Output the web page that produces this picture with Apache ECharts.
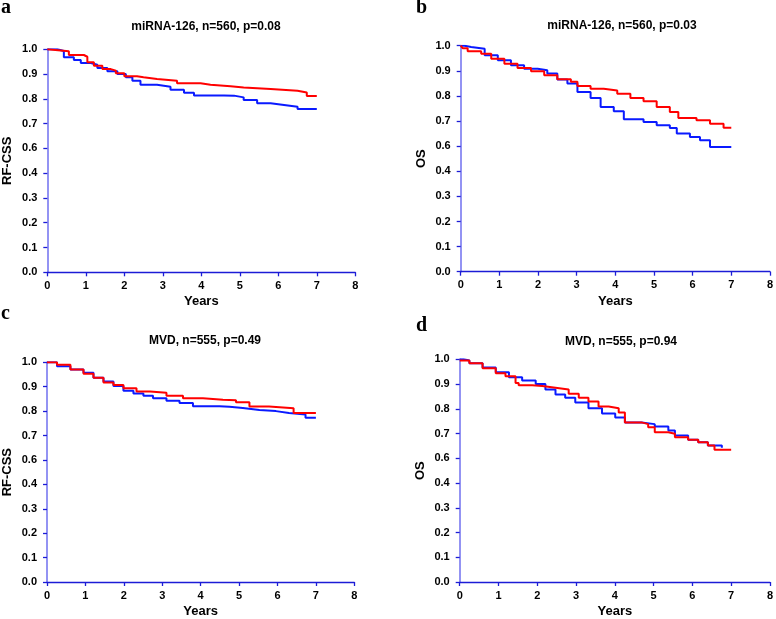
<!DOCTYPE html>
<html>
<head>
<meta charset="utf-8">
<script src="https://cdn.jsdelivr.net/npm/echarts@6/dist/echarts.min.js"></script>
<style>
html,body{margin:0;padding:0;background:#fff;}
#chart{width:776px;height:619px;}
</style>
</head>
<body>
<div id="chart"></div>
<script>
// ---- Data ----
const xTicks = [0, 1, 2, 3, 4, 5, 6, 7, 8];
// y tick labels as printed on the original figure (0.5 is missing there)
const yTickLabels = ["0.0", "0.1", "0.2", "0.3", "0.4", "0.6", "0.7", "0.8", "0.9", "1.0"];

const panelTitles = ["miRNA-126, n=560, p=0.08", "miRNA-126, n=560, p=0.03", "MVD, n=555, p=0.49", "MVD, n=555, p=0.94"];
const panelLetters = ["a", "b", "c", "d"];
const yNames = ["RF-CSS", "OS", "RF-CSS", "OS"];
const xName = "Years";

// Panel a (RF-CSS, miRNA-126)
const aRedT  = [0, 0.05, 0.56, 0.95, 1.04, 1.21, 1.43, 1.65, 1.78, 2.0, 2.33, 2.5, 2.85, 3.37, 3.98, 4.24, 4.76, 5.1, 5.8, 6.5, 6.74, 7.0];
const aRedS  = [1.0, 0.992, 0.977, 0.97, 0.948, 0.934, 0.92, 0.914, 0.903, 0.891, 0.887, 0.88, 0.873, 0.863, 0.857, 0.851, 0.846, 0.84, 0.833, 0.826, 0.812, 0.812];
const aBlueT = [0, 0.26, 0.43, 0.69, 0.87, 1.13, 1.3, 1.56, 1.82, 2.04, 2.21, 2.42, 2.85, 3.2, 3.55, 3.81, 4.59, 4.85, 5.1, 5.45, 5.8, 6.15, 6.5, 7.0];
const aBlueS = [1.0, 0.993, 0.968, 0.957, 0.945, 0.938, 0.925, 0.911, 0.9, 0.887, 0.873, 0.857, 0.849, 0.837, 0.825, 0.814, 0.813, 0.806, 0.795, 0.782, 0.775, 0.768, 0.759, 0.759];

// Panel b (OS, miRNA-126)
const bRedT  = [0, 0.05, 0.18, 0.53, 0.79, 1.13, 1.47, 1.82, 2.16, 2.5, 2.85, 3.02, 3.36, 3.7, 4.05, 4.39, 4.73, 5.07, 5.41, 5.63, 6.1, 6.45, 6.8, 7.0];
const bRedS  = [1.0, 0.99, 0.978, 0.968, 0.948, 0.928, 0.911, 0.898, 0.882, 0.866, 0.856, 0.84, 0.829, 0.822, 0.809, 0.792, 0.779, 0.756, 0.736, 0.712, 0.703, 0.689, 0.673, 0.673];
const bBlueT = [0, 0.1, 0.27, 0.62, 0.96, 1.3, 1.64, 1.99, 2.24, 2.5, 2.76, 3.02, 3.36, 3.62, 3.96, 4.22, 4.73, 5.07, 5.41, 5.59, 5.93, 6.19, 6.45, 7.0];
const bBlueS = [1.0, 0.995, 0.988, 0.962, 0.942, 0.922, 0.908, 0.902, 0.889, 0.865, 0.849, 0.816, 0.792, 0.756, 0.739, 0.707, 0.696, 0.683, 0.672, 0.65, 0.636, 0.623, 0.597, 0.597];

// Panel c (RF-CSS, MVD)
const cRedT  = [0, 0.26, 0.61, 0.95, 1.21, 1.47, 1.73, 1.99, 2.33, 2.68, 3.11, 3.54, 4.06, 4.58, 4.92, 5.27, 5.78, 6.42, 7.0];
const cRedS  = [1.0, 0.99, 0.97, 0.953, 0.937, 0.917, 0.907, 0.894, 0.88, 0.875, 0.863, 0.853, 0.847, 0.845, 0.836, 0.819, 0.812, 0.792, 0.792];
const cBlueT = [0, 0.26, 0.61, 0.95, 1.21, 1.47, 1.73, 1.99, 2.25, 2.51, 2.76, 3.11, 3.45, 3.8, 4.49, 4.75, 5.1, 5.53, 5.96, 6.3, 6.73, 7.0];
const cBlueS = [1.0, 0.984, 0.97, 0.957, 0.937, 0.921, 0.903, 0.883, 0.872, 0.863, 0.853, 0.843, 0.833, 0.82, 0.818, 0.813, 0.805, 0.8, 0.792, 0.786, 0.773, 0.773];

// Panel d (OS, MVD)
const dRedT  = [0, 0.25, 0.59, 0.93, 1.18, 1.44, 1.52, 1.87, 2.13, 2.47, 2.81, 3.07, 3.32, 3.58, 3.84, 4.1, 4.26, 4.69, 4.86, 5.03, 5.38, 5.55, 5.89, 6.15, 6.4, 6.57, 7.0];
const dRedS  = [0.995, 0.984, 0.964, 0.944, 0.931, 0.904, 0.895, 0.892, 0.885, 0.878, 0.861, 0.845, 0.829, 0.809, 0.802, 0.785, 0.745, 0.738, 0.725, 0.705, 0.699, 0.685, 0.675, 0.665, 0.652, 0.634, 0.634];
const dBlueT = [0, 0.1, 0.25, 0.59, 0.93, 1.27, 1.61, 1.96, 2.21, 2.47, 2.72, 2.98, 3.32, 3.67, 4.01, 4.26, 4.69, 5.03, 5.38, 5.55, 5.89, 6.15, 6.4, 6.76];
const dBlueS = [1.0, 0.995, 0.984, 0.967, 0.948, 0.927, 0.914, 0.9, 0.878, 0.858, 0.845, 0.825, 0.802, 0.781, 0.765, 0.745, 0.738, 0.728, 0.712, 0.692, 0.675, 0.665, 0.652, 0.643];

const redColor = "#ff0000";
const blueColor = "#0a1aff";

// ---- Layout ----
const grids = [
  {left: 47.3, top: 49.3, width: 308, height: 223},
  {left: 460.7, top: 45.7, width: 311.3, height: 226},
  {left: 45.3, top: 362.3, width: 309, height: 223.4},
  {left: 459.7, top: 359.3, width: 312, height: 226}
];
const titlePos = [[201, 16], [617, 15], [200, 330], [616, 331]];
const letterPos = [[1, 18], [416, 18], [1, 324], [416, 336]];

const pairs = [
  [[aRedT, aRedS], [aBlueT, aBlueS]],
  [[bRedT, bRedS], [bBlueT, bBlueS]],
  [[cRedT, cRedS], [cBlueT, cBlueS]],
  [[dRedT, dRedS], [dBlueT, dBlueS]]
];

function zip(t, s) { return t.map((v, i) => [v, s[i]]); }

const FONT = '"Liberation Sans", Arial, Helvetica, sans-serif';

function yLabel(v) {
  const n = Math.round(v * 10);
  const idx = n - 1; // axis runs 0.1..1.0, labels skip 0.5
  return yTickLabels[idx] !== undefined ? yTickLabels[idx] : '';
}

const option = {
  backgroundColor: '#ffffff',
  animation: false,
  title: panelTitles.map((t, i) => ({
    text: t,
    left: titlePos[i][0],
    top: titlePos[i][1],
    textAlign: 'center',
    textStyle: {fontFamily: FONT, fontSize: 12, fontWeight: 'bold', color: '#000'}
  })),
  graphic: panelLetters.map((l, i) => ({
    type: 'text',
    x: letterPos[i][0],
    y: letterPos[i][1],
    style: {
      text: l,
      font: 'bold 20px "Liberation Serif", "Times New Roman", serif',
      fill: '#000',
      textAlign: 'left',
      textVerticalAlign: 'bottom'
    }
  })),
  grid: grids.map(g => Object.assign({containLabel: false}, g)),
  xAxis: grids.map((g, i) => ({
    type: 'value',
    gridIndex: i,
    min: xTicks[0],
    max: xTicks[xTicks.length - 1],
    interval: 1,
    name: xName,
    nameLocation: 'middle',
    nameGap: 23,
    nameTextStyle: {fontFamily: FONT, fontSize: 13, fontWeight: 'bold', color: '#000'},
    axisLine: {show: true, onZero: false, lineStyle: {color: '#1c1cd6', width: 1.3}},
    axisTick: {show: true, inside: false, length: 4, lineStyle: {color: '#1c1cd6', width: 1.3}},
    axisLabel: {fontFamily: FONT, fontSize: 11, fontWeight: 'bold', color: '#000', margin: 8},
    splitLine: {show: false}
  })),
  yAxis: grids.map((g, i) => ({
    type: 'value',
    gridIndex: i,
    min: 0.1,
    max: 1.0,
    interval: 0.1,
    name: yNames[i],
    nameLocation: 'middle',
    nameGap: 33,
    nameTextStyle: {fontFamily: FONT, fontSize: 13, fontWeight: 'bold', color: '#000'},
    axisLine: {show: true, onZero: false, lineStyle: {color: '#7878f0', width: 1.6}},
    axisTick: {show: true, inside: false, length: 4, lineStyle: {color: '#1c1cd6', width: 1.3}},
    axisLabel: {fontFamily: FONT, fontSize: 11, fontWeight: 'bold', color: '#000', margin: 10, formatter: yLabel},
    splitLine: {show: false}
  })),
  series: []
};

pairs.forEach((p, i) => {
  option.series.push({
    type: 'line', xAxisIndex: i, yAxisIndex: i, step: 'end', showSymbol: false, symbol: 'none',
    data: zip(p[1][0], p[1][1]), lineStyle: {color: blueColor, width: 2}, itemStyle: {color: blueColor}, z: 3
  });
  option.series.push({
    type: 'line', xAxisIndex: i, yAxisIndex: i, step: 'end', showSymbol: false, symbol: 'none',
    data: zip(p[0][0], p[0][1]), lineStyle: {color: redColor, width: 2}, itemStyle: {color: redColor}, z: 4
  });
});

const chart = echarts.init(document.getElementById('chart'), null, {renderer: 'canvas'});
chart.setOption(option);
</script>
</body>
</html>
